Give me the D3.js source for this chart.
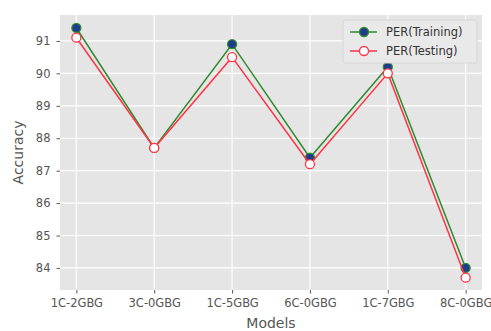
<!DOCTYPE html>
<html lang="en">
<head>
<meta charset="UTF-8">
<title>PER accuracy by model</title>
<script src="https://d3js.org/d3.v7.min.js"></script>
<style>
    body { margin: 0; background: #fff; }
    text { font-family: "DejaVu Sans", sans-serif; }
</style>
</head>
<body>
<div id="chart"></div>
<script>
// data
const models = ["1C-2GBG", "3C-0GBG", "1C-5GBG", "6C-0GBG", "1C-7GBG", "8C-0GBG"];
const perTraining = [91.4, 87.7, 90.9, 87.4, 90.2, 84.0];
const perTesting = [91.1, 87.7, 90.5, 87.2, 90.0, 83.7];
const yTicks = [84, 85, 86, 87, 88, 89, 90, 91];

const width = 491, height = 331;
const margin = {top: 15, right: 9, bottom: 41, left: 60};
const innerW = width - margin.left - margin.right;
const innerH = height - margin.top - margin.bottom;

const svg = d3.select("#chart").append("svg")
    .attr("width", width)
    .attr("height", height);

const g = svg.append("g").attr("transform", `translate(${margin.left},${margin.top})`);

const x = d3.scalePoint().domain(models).range([0, innerW]).padding(0.21);
const y = d3.scaleLinear().domain([83.32, 91.8]).range([innerH, 0]);

// background
g.append("rect").attr("width", innerW).attr("height", innerH).attr("fill", "#e5e5e5");

// grid
g.selectAll(".gy").data(yTicks).join("line")
    .attr("x1", 0).attr("x2", innerW)
    .attr("y1", d => y(d)).attr("y2", d => y(d))
    .attr("stroke", "#fff").attr("stroke-width", 1.2);
g.selectAll(".gx").data(models).join("line")
    .attr("x1", d => x(d)).attr("x2", d => x(d))
    .attr("y1", 0).attr("y2", innerH)
    .attr("stroke", "#fff").attr("stroke-width", 1.2);

// axes
const yAxis = g.append("g").call(d3.axisLeft(y).tickValues(yTicks).tickSize(3.5).tickPadding(6));
const xAxis = g.append("g").attr("transform", `translate(0,${innerH})`)
    .call(d3.axisBottom(x).tickSize(3.5).tickPadding(5));
[xAxis, yAxis].forEach(a => {
    a.select(".domain").remove();
    a.selectAll(".tick line").attr("stroke", "#555");
    a.selectAll(".tick text").attr("fill", "#555").style("font-size", "11.5px");
});

// axis labels
svg.append("text")
    .attr("x", margin.left + innerW / 2).attr("y", 328)
    .attr("text-anchor", "middle").attr("fill", "#555").style("font-size", "14px")
    .text("Models");
svg.append("text")
    .attr("transform", `translate(23,${margin.top + innerH / 2}) rotate(-90)`)
    .attr("text-anchor", "middle").attr("fill", "#555").style("font-size", "14px")
    .text("Accuracy");

const series = [
    {name: "PER(Training)", values: perTraining, stroke: "#2e8b2e", fill: "#1f3d8c", edge: "#2e8b2e"},
    {name: "PER(Testing)", values: perTesting, stroke: "#ff3344", fill: "#ffffff", edge: "#ff3344"}
];

const line = d3.line().x((d, i) => x(models[i])).y(d => y(d));

series.forEach(s => {
    g.append("path").datum(s.values)
        .attr("fill", "none").attr("stroke", s.stroke).attr("stroke-width", 1.5)
        .attr("d", line);
    g.selectAll(null).data(s.values).join("circle")
        .attr("cx", (d, i) => x(models[i])).attr("cy", d => y(d))
        .attr("r", 4.5)
        .attr("fill", s.fill).attr("stroke", s.edge).attr("stroke-width", 1.3);
});

// legend
const leg = svg.append("g").attr("transform", "translate(343,20)");
leg.append("rect").attr("width", 134).attr("height", 43).attr("rx", 2)
    .attr("fill", "#e9e9e9").attr("stroke", "#d6d6d6").attr("stroke-width", 1);
series.forEach((s, i) => {
    const yy = 12 + i * 19;
    leg.append("line").attr("x1", 7).attr("x2", 34).attr("y1", yy).attr("y2", yy)
        .attr("stroke", s.stroke).attr("stroke-width", 1.5);
    leg.append("circle").attr("cx", 21).attr("cy", yy).attr("r", 4.5)
        .attr("fill", s.fill).attr("stroke", s.edge).attr("stroke-width", 1.3);
    leg.append("text").attr("x", 43).attr("y", yy + 4)
        .attr("fill", "#333").style("font-size", "11.5px").text(s.name);
});
</script>
</body>
</html>
